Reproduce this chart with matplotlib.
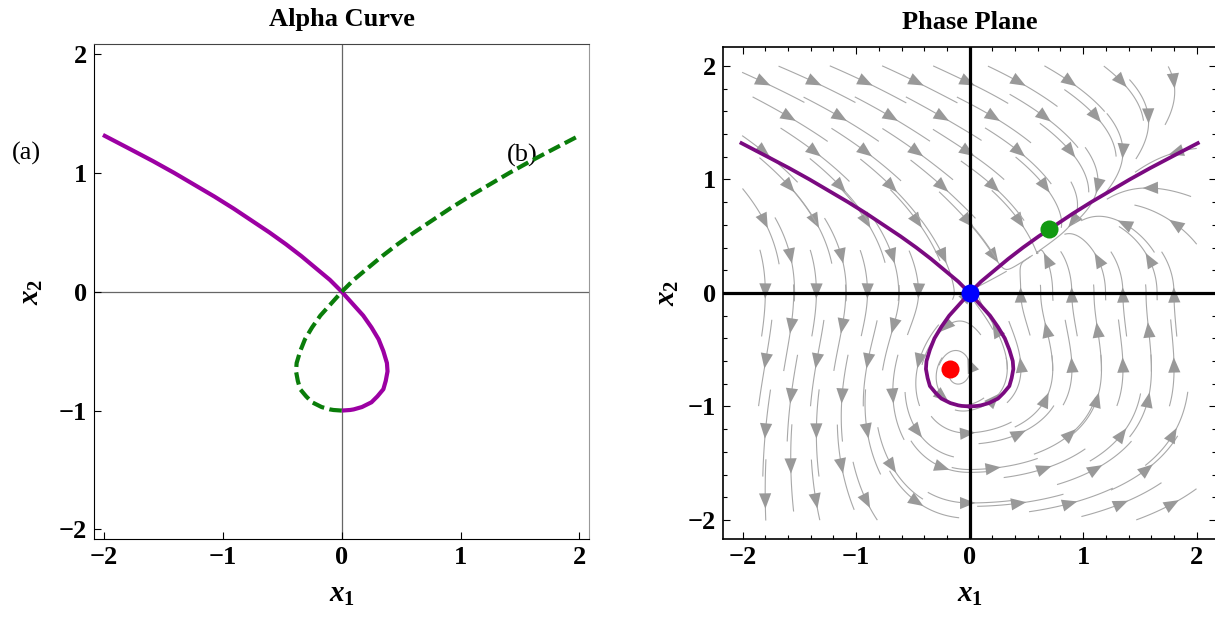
import matplotlib
matplotlib.use("Agg")
import matplotlib.pyplot as plt
import numpy as np
from matplotlib.ticker import MultipleLocator

plt.rcParams['font.family'] = ['Liberation Serif', 'DejaVu Serif']
plt.rcParams['mathtext.fontset'] = 'custom'
plt.rcParams['mathtext.rm'] = 'Liberation Serif:bold'
plt.rcParams['mathtext.it'] = 'Liberation Serif:italic:bold'
plt.rcParams['mathtext.bf'] = 'Liberation Serif:bold'

# branch (a) of the alpha curve
a_x1 = [-2.01, -1.78, -1.59, -1.41, -1.24, -1.07, -0.91, -0.76, -0.61, -0.47,
        -0.34, -0.22, -0.10, 0.00, 0.09, 0.18, 0.25, 0.31, 0.35, 0.38,
        0.385, 0.37, 0.35, 0.30, 0.25, 0.17, 0.10, 0.07, 0.00]
a_x2 = [1.32, 1.20, 1.10, 1.00, 0.90, 0.80, 0.70, 0.60, 0.50, 0.40,
        0.30, 0.20, 0.10, 0.00, -0.10, -0.20, -0.30, -0.40, -0.50, -0.60,
        -0.67, -0.75, -0.82, -0.88, -0.93, -0.97, -0.99, -0.995, -1.00]
# branch (b)
b_x1 = [0.00, -0.07, -0.10, -0.17, -0.25, -0.30, -0.35, -0.37, -0.385, -0.38,
        -0.35, -0.31, -0.25, -0.18, -0.09, 0.00, 0.10, 0.22, 0.34, 0.47,
        0.61, 0.76, 0.91, 1.07, 1.24, 1.41, 1.59, 1.78, 2.01]
b_x2 = [-1.00, -0.995, -0.99, -0.97, -0.93, -0.88, -0.82, -0.75, -0.67, -0.60,
        -0.50, -0.40, -0.30, -0.20, -0.10, 0.00, 0.10, 0.20, 0.30, 0.40,
        0.50, 0.60, 0.70, 0.80, 0.90, 1.00, 1.10, 1.20, 1.32]

# marked points in the phase plane
pt_x1 = [0.0, 0.70, -0.17]
pt_x2 = [0.0, 0.56, -0.67]
pt_col = ['#0000ff', '#129a12', '#ff0000']

ticks = [-2, -1, 0, 1, 2]
tick_text = ['\u22122', '\u22121', '0', '1', '2']


def field(x1, x2):
    # rotation along level sets of x1^2 - x2^2 (1 + x2) plus drifts that bend it
    hx = 2 * x2 + 3 * x2**2
    hy = 2 * x1 + 0.34 * np.exp(-(x1**2 + (x2 + 0.67)**2) / 0.3)
    up = max(x2, 0.0)
    if x1 > 0:
        m = 1 + 3.5 * x1
    else:
        m = max(1 + 0.5 * x1, 0.0)
    k = 1.2 + 2.2 / (1 + np.exp(-2 * (x1 + 1)))
    low = min(x1, 0.0) * min(x2, 0.0)**2
    return hx - up * m + 1.03 * low, hy - up * k + 1.65 * low


def trace(x, y, sign, half, ds=0.01):
    pts = []
    for _ in range(int(half / ds)):
        u, v = field(x, y)
        n = np.hypot(u, v)
        if n < 1e-6:
            break
        xm = x + 0.5 * ds * sign * u / n
        ym = y + 0.5 * ds * sign * v / n
        u, v = field(xm, ym)
        n = np.hypot(u, v)
        if n < 1e-6:
            break
        x = x + ds * sign * u / n
        y = y + ds * sign * v / n
        if abs(x) > 2 or abs(y) > 2:
            break
        pts.append((x, y))
    return pts


fig = plt.figure(figsize=(12.15, 6.19), dpi=100)
ax1 = fig.add_axes([0.0776, 0.1288, 0.4074, 0.7997])
ax2 = fig.add_axes([0.5953, 0.1288, 0.4055, 0.7958])

lim = 2.083
ax1.set_xlim(-lim, lim)
ax1.set_ylim(-lim, lim)
ax1.axhline(0, color='#666666', lw=0.9, zorder=1)
ax1.axvline(0, color='#666666', lw=0.9, zorder=1)
ax1.plot(a_x1, a_x2, color='#9c00a3', lw=3.0, solid_capstyle='butt', zorder=3)
ax1.plot(b_x1, b_x2, color='#0a7d0a', lw=3.0, dashes=(3, 1.3), zorder=4)
ax1.text(-2.65, 1.16, '(a)', fontsize=19, ha='center', va='center', clip_on=False)
ax1.text(1.515, 1.15, '(b)', fontsize=19, ha='center', va='center', zorder=2)
ax1.set_title('Alpha Curve', fontsize=19, fontweight='bold', pad=13)
ax1.set_xticks(ticks)
ax1.set_yticks(ticks)
ax1.set_xticklabels(tick_text)
ax1.set_yticklabels(tick_text)
ax1.tick_params(direction='in', length=5.3, width=0.8, labelsize=19, pad=5)
for lab in ax1.get_xticklabels() + ax1.get_yticklabels():
    lab.set_fontweight('bold')
ax1.spines['top'].set_color('#444444')
ax1.spines['right'].set_color('#999999')
ax1.set_xlabel('$x_1$', fontsize=21, labelpad=9)
ax1.set_ylabel('$x_2$', fontsize=21, labelpad=10)

# stream lines: short traces through a staggered grid of seeds, arrow in the middle
lim2 = 2.17
half_len = 0.38
rows = np.linspace(-1.85, 1.85, 13)
cols = np.linspace(-1.8, 1.8, 9)
for i, sy in enumerate(rows):
    shift = 0.225 if i % 2 else 0.0
    for sx in cols + shift:
        if sx > 1.95:
            continue
        back = trace(sx, sy, -1, half_len)
        fwd = trace(sx, sy, 1, half_len)
        line = back[::-1] + [(sx, sy)] + fwd
        if len(line) < 8:
            continue
        lx, ly = zip(*line)
        ax2.plot(lx, ly, color='#a8a8a8', lw=0.8, zorder=1)
        if len(fwd) > 4:
            ax2.annotate('', xy=fwd[4], xytext=(sx, sy),
                         arrowprops=dict(arrowstyle='-|>,head_length=0.5,head_width=0.2',
                                         mutation_scale=22, color='#999999', lw=0,
                                         shrinkA=0, shrinkB=0), zorder=1)

ax2.axhline(0, color='black', lw=2.3, zorder=2)
ax2.axvline(0, color='black', lw=2.3, zorder=2)
ax2.plot(a_x1, a_x2, color='#7a0a80', lw=2.7, zorder=3)
ax2.plot(b_x1, b_x2, color='#7a0a80', lw=2.7, zorder=3)
for px, py, pc in zip(pt_x1, pt_x2, pt_col):
    ax2.plot(px, py, 'o', color=pc, ms=13, mec='none', zorder=4)
ax2.set_xlim(-lim2, lim2)
ax2.set_ylim(-lim2, lim2)
ax2.set_title('Phase Plane', fontsize=19, fontweight='bold', pad=13)
ax2.set_xticks(ticks)
ax2.set_yticks(ticks)
ax2.xaxis.set_minor_locator(MultipleLocator(0.2))
ax2.yaxis.set_minor_locator(MultipleLocator(0.2))
ax2.set_xticklabels(tick_text)
ax2.set_yticklabels(tick_text)
ax2.tick_params(which='both', direction='in', top=True, right=True, width=0.8,
                labelsize=19, pad=5)
ax2.tick_params(which='major', length=5)
ax2.tick_params(which='minor', length=3)
for lab in ax2.get_xticklabels() + ax2.get_yticklabels():
    lab.set_fontweight('bold')
for sp in ax2.spines.values():
    sp.set_linewidth(1.2)
ax2.set_xlabel('$x_1$', fontsize=21, labelpad=9)
ax2.set_ylabel('$x_2$', fontsize=21, labelpad=5)

fig.savefig('out.png', dpi=100)
